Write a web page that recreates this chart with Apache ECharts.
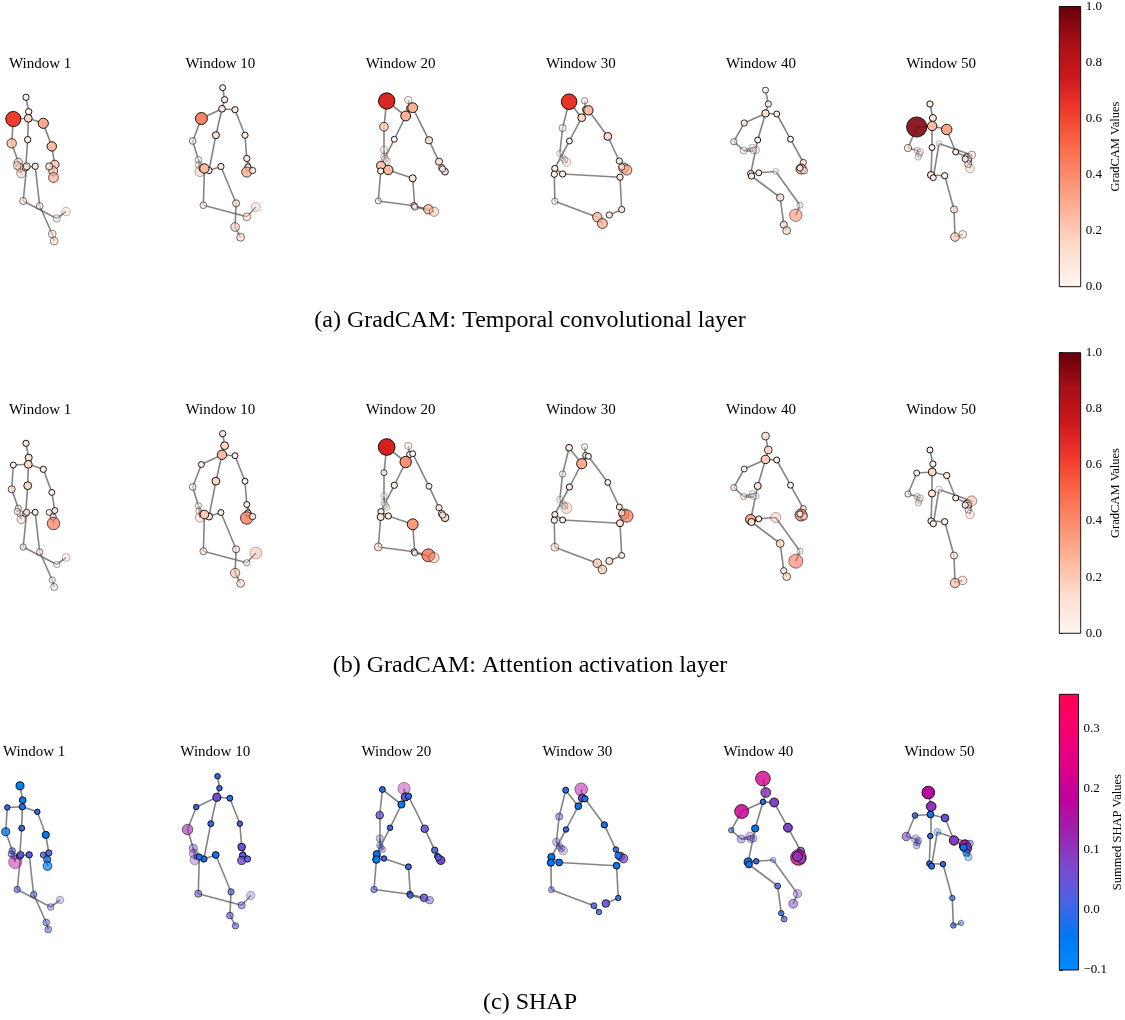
<!DOCTYPE html>
<html>
<head>
<meta charset="utf-8">
<script src="https://cdn.jsdelivr.net/npm/echarts@6/dist/echarts.min.js"></script>
<style>
  html, body { margin: 0; padding: 0; background: #fff; }
  #chart { width: 1125px; height: 1020px; }
</style>
</head>
<body>
<div id="chart"></div>
<script>
// ---------------------------------------------------------------------------
// Skeleton definition (25 body joints) and the bones joining them
// ---------------------------------------------------------------------------
const WINDOWS = ['Window 1', 'Window 10', 'Window 20', 'Window 30', 'Window 40', 'Window 50'];
const JOINTS = ['head', 'neck', 'spineShoulder', 'shoulderL', 'elbowL', 'wristL', 'handL', 'handTipL', 'thumbL',
                'shoulderR', 'elbowR', 'wristR', 'handR', 'handTipR', 'thumbR',
                'spineMid', 'spineBase', 'hipL', 'kneeL', 'ankleL', 'footL', 'hipR', 'kneeR', 'ankleR', 'footR'];
const BONES = [[0,1],[1,2],[2,3],[3,4],[4,5],[5,6],[6,7],[5,8],
               [2,9],[9,10],[10,11],[11,12],[12,13],[11,14],
               [2,15],[15,16],[16,17],[17,18],[18,19],[19,20],[16,21],[21,22],[22,23],[23,24]];

// Projected joint positions (x right, y down) for each window
const POSE_W1 = [[-14.2,33.3],[-11.5,47.7],[-11.9,54.3],[-26.9,55],[-28.5,79.3],[-21.9,98.3],[-20.2,103.7],[-19,109.5],[-23,101.5],
  [3.1,59.3],[11.6,82.4],[14.6,100.5],[13,107],[13.3,113.5],[9,102.4],
  [-12.5,75.7],[-14.5,103.5],[-13.5,102.3],[-17,137],[16.5,154.5],[25.8,147.5],[-5,102.3],[-0.5,142],[12,170],[14,177]];
const POSE_W10 = [[2.3,23.7],[4.2,35.7],[1.6,44.8],[-19,54.5],[-27.7,77],[-22,95.8],[-21.4,101.2],[-20.4,107.5],[-18,104],
  [14.6,45.7],[24.6,71.2],[26.4,94.5],[27.5,103],[26.4,108],[32.2,106.5],
  [-4.5,71.2],[-11.4,106.5],[-16,104.5],[-17,141.2],[26.4,152.8],[35.5,143],[0.5,102.5],[15.7,139.3],[14.7,163],[20.2,173.3]];
const POSE_W20 = [[7.7,36],[9,44.5],[5.1,52],[-13.9,37],[-16.6,62.7],[-16.6,86],[-16.6,92.7],[-13.9,97],[-15.5,95],
  [12.1,43.7],[28.4,76.3],[38.4,97.7],[41.1,103.7],[44.4,107.7],[42,105],
  [-6.3,75.3],[-19.6,101.7],[-19.9,107],[-22.3,137],[13.4,141.7],[27.7,145.3],[-12.3,106],[12.1,114.3],[14.2,143],[33.4,147.7]];
const POSE_W30 = [[3.8,36.8],[4.8,45.5],[0.9,53.7],[-11.7,37.7],[-18.2,64],[-21,89.5],[-17.8,94],[-14.3,98],[-16,96],
  [7.6,46.3],[27,72.4],[38.5,97],[43,104],[46,106],[41,103],
  [-11.4,77],[-26,104.5],[-26.5,110.2],[-26,137.2],[16.5,153.2],[21.6,159.5],[-18.2,110],[39.2,113.2],[40.9,145.5],[28.5,151]];
const POSE_W40 = [[4.5,26.1],[7.3,40],[4.5,49.4],[-16.8,59],[-27.2,77.7],[-17.3,86.5],[-8.5,83.7],[-5,86],[-7.5,86.5],
  [15.7,50],[29.5,75.2],[42.3,98.5],[40,105],[43,106.5],[39,104],
  [-3.3,76],[-10.3,109.5],[-9.5,112],[19.2,133.5],[22.8,160.7],[25.7,166.6],[-2.2,108.8],[14.7,107.5],[39,141.2],[34.8,151.2]];
const POSE_W50 = [[-11.2,40],[-8.3,54],[-9,62],[-24.5,63],[-33.2,84],[-24,86.5],[-22,90.3],[-23,93],[-21,88],
  [5.5,65.5],[14.5,88],[25.5,93],[27.2,95.5],[27,100],[24,95],
  [-9.2,83.5],[-10.2,111],[3.5,111.7],[12.8,145.5],[13.8,173],[21.5,170.4],[-7.9,113.7],[-2.2,79.5],[30.5,91],[28.8,104.5]];
const POSES = [POSE_W1, POSE_W10, POSE_W20, POSE_W30, POSE_W40, POSE_W50];

// Depth visibility of each joint (1 = nearest to the camera)
const VIS_W1  = [1,1,1,1,0.8,0.6,0.5,0.45,0.5, 1,1,0.9,0.8,0.7,0.8, 1,0.8,0.8,0.6,0.4,0.3,1,0.6,0.5,0.5];
const VIS_W10 = [1,1,1,1,0.6,0.45,0.4,0.35,0.5, 1,1,1,1,0.8,0.9, 1,1,1,0.6,0.5,0.3,1,0.7,0.6,0.6];
const VIS_W20 = [0.4,1,1,1,0.8,0.35,0.3,0.35,0.3, 1,0.9,0.9,0.9,1,0.8, 1,1,1,0.6,0.9,0.8,1,1,0.7,0.45];
const VIS_W30 = [0.5,1,1,1,0.5,0.35,0.35,0.3,0.35, 1,1,0.9,0.8,0.7,0.7, 1,1,1,0.5,0.8,0.8,1,1,0.9,0.9];
const VIS_W40 = [0.8,0.85,1,0.85,0.6,0.4,0.35,0.35,0.3, 1,1,0.8,0.8,0.6,0.9, 1,1,1,0.8,0.8,0.7,1,0.35,0.4,0.5];
const VIS_W50 = [1,1,1,0.9,0.6,0.35,0.35,0.35,0.35, 1,1,1,1,0.6,0.9, 1,1,1,0.7,0.7,0.45,1,0.3,0.45,0.35];
const VISIBILITY = [VIS_W1, VIS_W10, VIS_W20, VIS_W30, VIS_W40, VIS_W50];

// Per-joint attributions, one list per window
const GRADCAM_TEMPORAL = [
  [0.05,0.06,0.15,0.62,0.25,0.18,0.2,0.22,0.15,0.3,0.25,0.2,0.22,0.28,0.1,0.06,0.1,0.1,0.1,0.12,0.2,0.05,0.08,0.15,0.15],
  [0.03,0.05,0.08,0.42,0.08,0.08,0.1,0.3,0.1,0.05,0.05,0.05,0.05,0.3,0.05,0.1,0.05,0.25,0.08,0.15,0.22,0.05,0.1,0.2,0.15],
  [0.12,0.05,0.28,0.7,0.2,0.12,0.1,0.1,0.08,0.28,0.12,0.1,0.05,0.08,0.05,0.03,0.22,0.05,0.03,0.05,0.25,0.25,0.1,0.05,0.25],
  [0.05,0.05,0.15,0.65,0.1,0.05,0.05,0.2,0.05,0.25,0.15,0.05,0.3,0.3,0.05,0.03,0.05,0.05,0.05,0.25,0.28,0.05,0.05,0.05,0.05],
  [0.03,0.05,0.12,0.05,0.05,0.1,0.08,0.1,0.08,0.03,0.03,0.05,0.3,0.1,0.05,0.03,0.05,0.05,0.12,0.1,0.15,0.03,0.03,0.03,0.45],
  [0.05,0.1,0.25,0.95,0.12,0.05,0.05,0.05,0.05,0.32,0.03,0.05,0.05,0.1,0.05,0.03,0.1,0.05,0.1,0.2,0.15,0.03,0.02,0.15,0.2]
];
const GRADCAM_ATTENTION = [
  [0.05,0.1,0.15,0.03,0.1,0.05,0.05,0.18,0.05,0.05,0.03,0.03,0.05,0.45,0.03,0.15,0.05,0.05,0.05,0.05,0.15,0.03,0.05,0.05,0.1],
  [0.05,0.15,0.25,0.03,0.08,0.05,0.05,0.25,0.05,0.03,0.03,0.03,0.05,0.45,0.05,0.15,0.1,0.2,0.1,0.05,0.4,0.03,0.1,0.25,0.15],
  [0.12,0.03,0.38,0.72,0.03,0.05,0.05,0.05,0.05,0.03,0.03,0.05,0.08,0.15,0.05,0.05,0.05,0.1,0.15,0.03,0.48,0.05,0.35,0.03,0.3],
  [0.05,0.03,0.3,0.08,0.05,0.05,0.05,0.35,0.05,0.03,0.02,0.03,0.3,0.45,0.05,0.05,0.03,0.05,0.15,0.2,0.2,0.03,0.1,0.03,0.1],
  [0.15,0.15,0.2,0.03,0.05,0.05,0.05,0.05,0.05,0.03,0.03,0.03,0.42,0.1,0.05,0.1,0.3,0.1,0.15,0.05,0.15,0.03,0.3,0.03,0.55],
  [0.03,0.05,0.15,0.03,0.05,0.05,0.05,0.05,0.05,0.05,0.03,0.03,0.05,0.05,0.05,0.1,0.05,0.05,0.1,0.25,0.2,0.05,0.1,0.3,0.2]
];
const SHAP_SUMMED = [
  [-0.06,-0.03,-0.02,0.0,-0.06,0.02,0.02,0.18,0.02,0.0,-0.04,0.02,-0.04,-0.08,0.01,0.01,0.03,0.03,0.02,0.03,0.05,0.02,0.02,0.03,0.03],
  [0.0,0.0,0.06,0.0,0.12,0.06,0.08,0.1,0.0,-0.01,0.0,0.05,0.03,0.06,0.02,-0.01,-0.02,-0.02,0.04,0.04,0.07,-0.03,0.02,0.03,0.02],
  [0.16,0.06,-0.04,-0.01,0.05,0.04,0.02,0.02,0.02,-0.02,0.05,0.02,0.01,0.07,0.02,0.0,-0.04,-0.05,0.02,0.01,0.05,0.0,0.01,0.01,0.05],
  [0.17,0.05,-0.03,-0.01,0.04,0.05,0.03,0.08,0.03,-0.02,-0.02,0.0,0.07,0.08,-0.04,0.0,-0.04,-0.04,0.01,0.01,0.0,-0.03,-0.03,0.0,0.05],
  [0.22,0.1,0.0,0.2,0.0,0.06,0.07,0.04,0.05,0.08,0.08,0.05,0.24,0.08,0.1,-0.04,-0.06,-0.03,0.01,0.0,0.01,0.0,0.0,0.07,0.08],
  [0.17,0.1,-0.03,0.0,0.07,0.06,0.02,0.03,0.02,0.05,0.09,0.14,0.1,-0.05,-0.04,0.0,0.0,0.0,0.0,0.0,0.0,-0.01,-0.04,0.03,-0.05]
];

const CAPTIONS = ['(a) GradCAM: Temporal convolutional layer', '(b) GradCAM: Attention activation layer', '(c) SHAP'];
const GRADCAM_TICKS = [0, 0.2, 0.4, 0.6, 0.8, 1.0];
const SHAP_TICKS = [-0.1, 0.0, 0.1, 0.2, 0.3];
const GRADCAM_RANGE = [0, 1];
const SHAP_RANGE = [-0.1, 0.357];

// ---------------------------------------------------------------------------
// Colour maps
// ---------------------------------------------------------------------------
const REDS = ['#fff5f0','#fee0d2','#fcbba1','#fc9272','#fb6a4a','#ef3b2c','#cb181d','#a50f15','#67000d'];
const RED_BLUE = ['#008bfb','#0078f3','#4b63e3','#7d49cd','#9c23ac','#c2009c','#e00086','#f5006d','#ff0051'];

function hexRgb(h) { return [1, 3, 5].map(i => parseInt(h.slice(i, i + 2), 16)); }
function sampleMap(stops, t) {
  t = Math.max(0, Math.min(1, t));
  const p = t * (stops.length - 1), i = Math.min(Math.floor(p), stops.length - 2), f = p - i;
  const a = hexRgb(stops[i]), b = hexRgb(stops[i + 1]);
  return 'rgb(' + a.map((v, k) => Math.round(v + (b[k] - v) * f)).join(',') + ')';
}
function gradientStops(stops) {
  return stops.map((c, i) => ({ offset: i / (stops.length - 1), color: c }));
}

// ---------------------------------------------------------------------------
// Layout
// ---------------------------------------------------------------------------
const FONT = 'Liberation Serif';
const ROWS = [
  { values: GRADCAM_TEMPORAL, cmap: REDS, range: GRADCAM_RANGE, top: 64, x0: 40.2, dx: 180.2,
    size: v => 5.5 + 15.5 * v, caption: 321, bar: { top: 6, bottom: 286.7 }, label: 'GradCAM Values', ticks: GRADCAM_TICKS },
  { values: GRADCAM_ATTENTION, cmap: REDS, range: GRADCAM_RANGE, top: 410, x0: 40.2, dx: 180.2,
    size: v => 5.5 + 15.5 * v, caption: 666, bar: { top: 352.7, bottom: 633.3 }, label: 'GradCAM Values', ticks: GRADCAM_TICKS },
  { values: SHAP_SUMMED, cmap: RED_BLUE, range: SHAP_RANGE, top: 752.5, x0: 34.2, dx: 181.06,
    size: v => 5.5 + 42 * Math.abs(v), caption: 1003, bar: { top: 694.3, bottom: 970 }, label: 'Summed SHAP Values', ticks: SHAP_TICKS }
];
const PANEL_X = [-34, 66];
const PANEL_Y = [0, 190];
const BAR_LEFT = 1059.3, BAR_WIDTH = 21.4;

const grid = [], xAxis = [], yAxis = [], series = [], title = [];
const textBase = { fontFamily: FONT, fontWeight: 'normal', color: '#000' };

ROWS.forEach((row, r) => {
  WINDOWS.forEach((name, w) => {
    const cx = row.x0 + row.dx * w;
    const idx = grid.length;
    grid.push({ left: cx + PANEL_X[0], top: row.top, width: PANEL_X[1] - PANEL_X[0], height: PANEL_Y[1] - PANEL_Y[0] });
    xAxis.push({ type: 'value', gridIndex: idx, min: PANEL_X[0], max: PANEL_X[1], show: false });
    yAxis.push({ type: 'value', gridIndex: idx, min: PANEL_Y[0], max: PANEL_Y[1], inverse: true, show: false });
    title.push({ text: name, left: cx, top: row.top, textAlign: 'center', textVerticalAlign: 'middle', padding: 0,
                 textStyle: Object.assign({ fontSize: 15 }, textBase) });

    const pose = POSES[w], vis = VISIBILITY[w], vals = row.values[w];
    series.push({
      type: 'lines', coordinateSystem: 'cartesian2d', xAxisIndex: idx, yAxisIndex: idx,
      silent: true, animation: false, clip: false, z: 1,
      lineStyle: { color: '#555', width: 1.6, opacity: 0.72, curveness: 0 },
      data: BONES.map(([a, b]) => ({ coords: [pose[a], pose[b]] }))
    });
    series.push({
      type: 'scatter', xAxisIndex: idx, yAxisIndex: idx, silent: true, animation: false, clip: false, z: 2,
      data: pose.map((p, j) => ({
        name: JOINTS[j],
        value: p,
        symbolSize: row.size(vals[j]),
        itemStyle: {
          color: sampleMap(row.cmap, (vals[j] - row.range[0]) / (row.range[1] - row.range[0])),
          borderColor: '#000', borderWidth: 0.9, opacity: vis[j]
        }
      }))
    });
  });

  title.push({ text: CAPTIONS[r], left: 530, top: row.caption, textAlign: 'center', textVerticalAlign: 'middle', padding: 0,
               textStyle: Object.assign({ fontSize: 24 }, textBase) });

  // colour bar
  const ci = grid.length;
  grid.push({ left: BAR_LEFT, top: row.bar.top, width: BAR_WIDTH, height: row.bar.bottom - row.bar.top });
  xAxis.push({ type: 'value', gridIndex: ci, min: 0, max: 1, show: false });
  yAxis.push({
    type: 'value', gridIndex: ci, position: 'right', min: row.range[0], max: row.range[1],
    interval: r === 2 ? 0.1 : 0.2,
    axisLine: { show: false }, splitLine: { show: false },
    axisTick: { show: true, length: 3.5, customValues: row.ticks, lineStyle: { color: '#000', width: 0.8 } },
    axisLabel: { show: true, margin: 5, customValues: row.ticks, fontFamily: FONT, fontSize: 13, color: '#000',
                 formatter: v => (v < -1e-9 ? '\u2212' : '') + Math.abs(v).toFixed(1) },
    name: row.label, nameLocation: 'middle', nameRotate: 90, nameGap: 29,
    nameTextStyle: Object.assign({ fontSize: 12.5 }, textBase)
  });
  series.push({
    type: 'custom', coordinateSystem: 'cartesian2d', xAxisIndex: ci, yAxisIndex: ci, silent: true, animation: false, clip: false,
    data: [[0, row.range[0], row.range[1]]],
    encode: { x: 0, y: [1, 2] },
    renderItem: (params, api) => {
      const lo = api.coord([0, api.value(1)]);
      const hi = api.coord([1, api.value(2)]);
      return {
        type: 'rect',
        shape: { x: lo[0], y: hi[1], width: hi[0] - lo[0], height: lo[1] - hi[1] },
        style: { fill: new echarts.graphic.LinearGradient(0, 1, 0, 0, gradientStops(row.cmap)), stroke: '#000', lineWidth: 0.9 }
      };
    }
  });
});

const chart = echarts.init(document.getElementById('chart'), null, { renderer: 'canvas' });
chart.setOption({
  backgroundColor: '#fff',
  animation: false,
  textStyle: { fontFamily: FONT },
  title, grid, xAxis, yAxis, series
});
</script>
</body>
</html>
